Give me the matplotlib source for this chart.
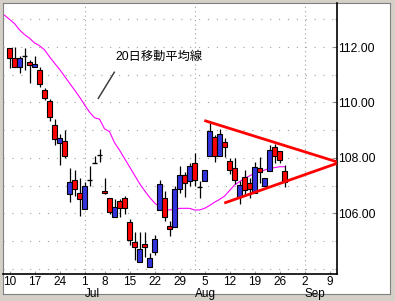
import matplotlib
matplotlib.use("Agg")
import matplotlib.pyplot as plt
from matplotlib.patches import Rectangle
from matplotlib.ticker import FormatStrFormatter
import matplotlib.transforms as mtransforms

plt.rcParams['font.family'] = ['Liberation Sans', 'Noto Sans CJK JP', 'DejaVu Sans']

# daily candles, one per trading day (index 0 = Jun 10)
opens = [111.95, 111.59, 111.27, 111.68, 111.45, 111.29, 111.19, 110.44, 110.05, 109.17,
         108.52, 108.61, 106.68, 107.19, 106.72, 106.16, 107.22, 107.80, 108.10, 106.80,
         106.54, 105.85, 106.45, 106.54, 105.67, 104.95, 104.25, 104.88, 104.07, 104.59,
         106.12, 106.54, 105.55, 105.51, 106.87, 107.40, 107.17, 107.80, 106.96, 107.17,
         108.08, 108.74, 108.08, 108.58, 107.88, 107.62, 106.60, 107.30, 107.10, 106.74,
         107.62, 106.98, 107.52, 108.40, 108.25, 107.52]
highs = [111.97, 112.01, 111.68, 111.95, 111.53, 111.68, 111.29, 110.51, 110.12, 109.39,
         108.88, 108.99, 107.62, 107.56, 107.28, 107.12, 107.70, 108.06, 108.32, 107.26,
         106.56, 106.51, 106.51, 106.62, 105.81, 105.33, 105.33, 105.33, 104.57, 105.21,
         107.20, 106.80, 105.74, 106.98, 107.71, 107.50, 107.80, 108.16, 107.17, 107.56,
         109.27, 108.82, 109.03, 108.70, 108.00, 108.00, 107.17, 107.56, 107.26, 107.86,
         108.02, 107.26, 108.46, 108.49, 108.25, 107.73]
lows = [111.24, 111.28, 111.07, 111.19, 110.69, 111.27, 110.57, 110.09, 109.34, 108.46,
        107.74, 107.98, 106.42, 106.62, 105.90, 106.16, 106.98, 107.80, 107.86, 106.68,
        105.96, 105.85, 105.85, 105.97, 104.85, 104.31, 104.25, 104.43, 104.07, 104.49,
        106.12, 105.73, 105.19, 105.51, 106.72, 106.60, 106.98, 106.98, 106.54, 107.17,
        108.08, 107.86, 108.08, 108.03, 107.42, 107.05, 106.32, 106.69, 106.54, 106.74,
        107.08, 106.98, 107.52, 107.80, 107.80, 106.96]
closes = [111.61, 111.29, 111.59, 111.68, 111.34, 111.38, 110.65, 110.17, 109.46, 108.67,
          108.70, 108.08, 107.12, 106.86, 106.52, 106.97, 107.22, 107.80, 108.10, 106.72,
          106.03, 106.23, 106.18, 106.18, 105.03, 104.79, 104.73, 104.79, 104.37, 105.09,
          107.04, 105.87, 105.45, 106.87, 107.38, 107.10, 107.70, 107.20, 106.96, 107.56,
          108.97, 108.08, 108.88, 108.40, 107.56, 107.20, 107.02, 106.84, 106.86, 107.68,
          107.48, 107.26, 108.28, 108.08, 107.92, 107.12]

# 20 day moving average (index -1 .. 55)
ma_start = -1
ma = [113.15, 113.00, 112.85, 112.62, 112.45, 112.32, 112.15, 112.05, 111.90, 111.65,
      111.42, 111.20, 110.95, 110.70, 110.45, 110.20, 109.92, 109.65, 109.45, 109.40,
      109.05, 108.95, 108.55, 108.28, 107.98, 107.68, 107.38, 107.08, 106.82, 106.58,
      106.38, 106.23, 106.15, 106.12, 106.15, 106.18, 106.18, 106.18, 106.12, 106.12,
      106.18, 106.28, 106.40, 106.50, 106.62, 106.82, 107.02, 107.14, 107.26, 107.35,
      107.44, 107.50, 107.56, 107.62, 107.65, 107.68, 107.68]

# triangle (trend lines)
upper_x = [38.96, 65.44]
upper_y = [109.35, 107.86]
lower_x = [42.96, 65.44]
lower_y = [106.37, 107.80]

# axis labels
week_pos = [0, 5, 10, 15, 19, 24, 29, 34, 39, 44, 49, 54, 59, 64]
week_labels = ['10', '17', '24', '1', '8', '15', '22', '29', '5', '12', '19', '26', '2', '9']
month_pos = [15, 37, 59]
month_labels = ['Jul', 'Aug', 'Sep']
y_major = [106, 108, 110, 112]
y_minor = [104, 105, 107, 109, 111, 113]

W, H = 395, 301
fig = plt.figure(figsize=(W / 100, H / 100), dpi=100, facecolor='#d4d0c8')

# white panel with sunken frame
bg = fig.add_axes([3 / W, 1 - 294 / H, 387 / W, 291 / H], zorder=-5)
bg.set_facecolor('white')
bg.set_xticks([])
bg.set_yticks([])
for s in bg.spines.values():
    s.set_color('#808080')

ax = fig.add_axes([3 / W, 1 - 274 / H, 334 / W, 271 / H], zorder=1)
ax.patch.set_alpha(0)
ax.set_xlim(-1.3, 65.5)
ax.set_ylim(103.81, 113.59)

for s in ['left', 'top']:
    ax.spines[s].set_visible(False)
for s in ['right', 'bottom']:
    ax.spines[s].set_color('black')
    ax.spines[s].set_linewidth(1.2)

# grid
for v in y_major + y_minor:
    ax.axhline(v, color='#a0a0a0', lw=0.8, ls=(0, (1, 7)), zorder=1)
for p in month_pos:
    ax.axvline(p, color='#a0a0a0', lw=0.8, ls=(0, (1, 3)), zorder=1)

# moving average
ma_x = list(range(ma_start, ma_start + len(ma)))
ax.plot(ma_x, ma, color='#ff00ff', lw=0.8, zorder=2)

# candles
bw = 0.84
for i in range(len(opens)):
    o, h, l, c = opens[i], highs[i], lows[i], closes[i]
    ax.vlines(i, l, h, color='black', lw=0.9, zorder=3)
    if abs(c - o) < 0.01:
        ax.hlines(o, i - bw / 2, i + bw / 2, color='black', lw=1.0, zorder=4)
    else:
        col = '#3333dd' if c > o else '#ff0000'
        ax.add_patch(Rectangle((i - bw / 2, min(o, c)), bw, abs(c - o),
                               facecolor=col, edgecolor='black', lw=0.8, zorder=4))

# triangle
ax.plot(upper_x, upper_y, color='#ff0000', lw=2, zorder=5, solid_capstyle='butt')
ax.plot(lower_x, lower_y, color='#ff0000', lw=2, zorder=5, solid_capstyle='butt')

# annotation
ax.plot([17.76, 20.96], [110.15, 111.09], color='#404040', lw=1.1, zorder=5)
ax.text(21.1, 111.64, '20日移動平均線', fontsize=8.8, va='center', ha='left', zorder=6)

# y axis on the right
ax.yaxis.tick_right()
ax.set_yticks(y_major)
ax.set_yticks(y_minor, minor=True)
ax.yaxis.set_major_formatter(FormatStrFormatter('%.2f'))
ax.tick_params(axis='y', which='major', direction='in', length=3, pad=0.8,
               labelsize=8.7, color='#808080')
ax.tick_params(axis='y', which='minor', direction='in', length=1.5, color='#808080')

# x axis
ax.set_xticks(week_pos)
ax.set_xticklabels(week_labels)
ax.tick_params(axis='x', which='major', direction='in', length=2, pad=1.2,
               labelsize=8.5, color='#a0a0a0')
trans = mtransforms.blended_transform_factory(ax.transData, ax.transAxes)
for p, lab in zip(month_pos, month_labels):
    ax.text(p, -0.05, lab, transform=trans, fontsize=8.5, ha='left', va='top')

fig.savefig('out.png', dpi=100, facecolor=fig.get_facecolor())
